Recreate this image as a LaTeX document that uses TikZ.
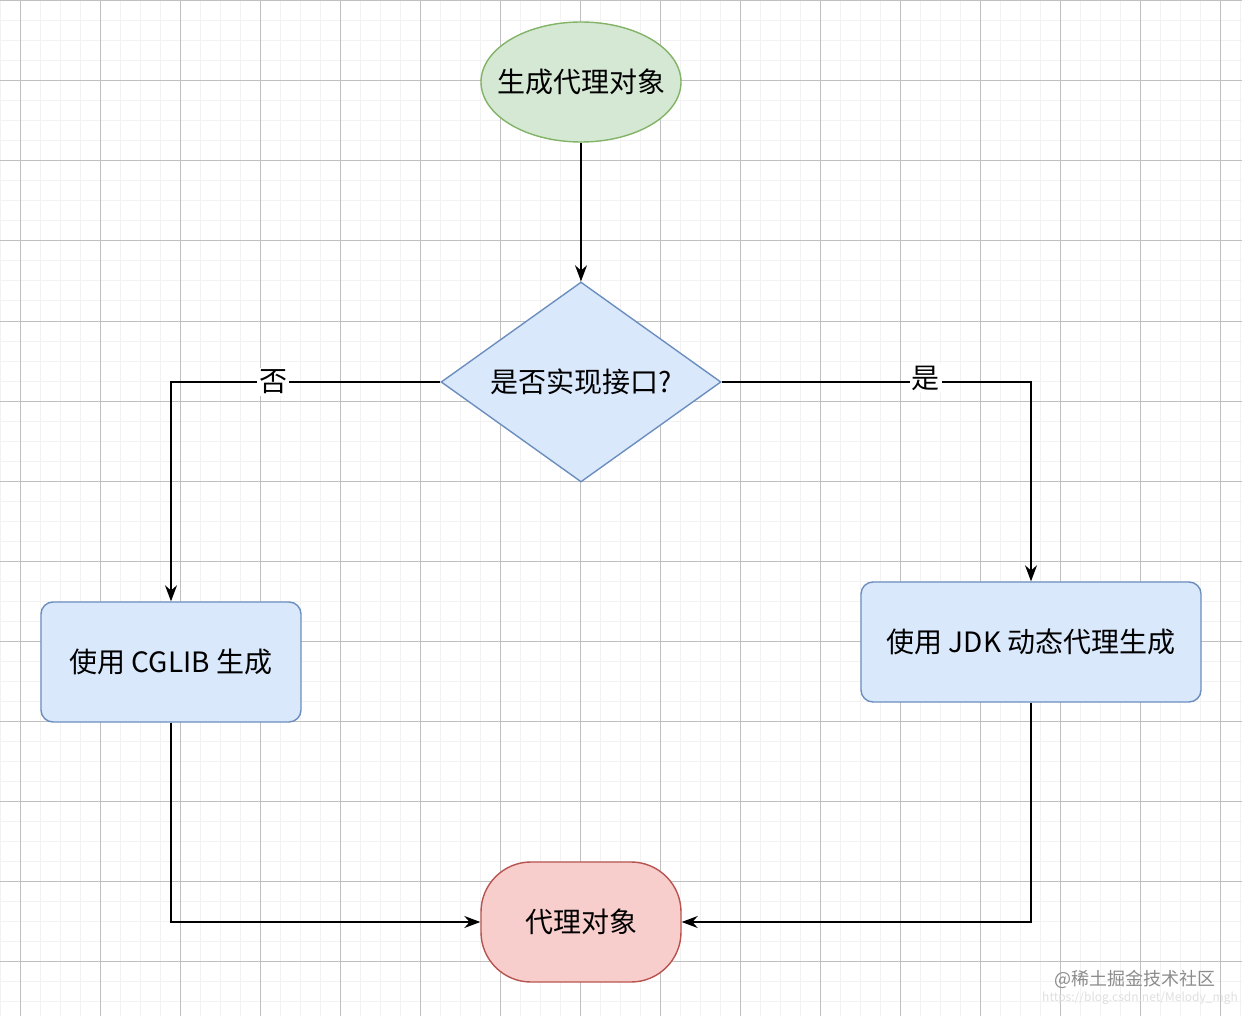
\documentclass[tikz,border=0pt]{standalone}
\usepackage{fontspec}
\setmainfont{Noto Sans CJK SC}
\usetikzlibrary{shapes.geometric,arrows.meta}
\definecolor{gfill}{HTML}{D5E8D4}\definecolor{gdraw}{HTML}{82B366}
\definecolor{bfill}{HTML}{DAE8FC}\definecolor{bdraw}{HTML}{6C8EBF}
\definecolor{rfill}{HTML}{F8CECC}\definecolor{rdraw}{HTML}{B85450}
\begin{document}
\begin{tikzpicture}[x=0.5pt,y=-0.5pt,
 lbl/.style={font=\fontsize{14}{16}\selectfont},
 edge/.style={draw=black,line width=0.7pt,-{Stealth[length=8pt,width=6pt]}},
 box/.style={draw=bdraw,fill=bfill,line width=0.7pt,rounded corners=6pt,lbl}]
\useasboundingbox (0,0) rectangle (1242,1016);
\fill[white] (0,0) rectangle (1242,1016);
\foreach \x in {0,20,...,1240} \draw[black!5,line width=0.5pt] (\x,0) -- (\x,1016);
\foreach \y in {1,21,...,1016} \draw[black!5,line width=0.5pt] (0,\y) -- (1242,\y);
\foreach \x in {20,100,...,1240} \draw[black!25,line width=0.5pt] (\x,0) -- (\x,1016);
\foreach \y in {1,81,...,1016} \draw[black!25,line width=0.5pt] (0,\y) -- (1242,\y);
\node[ellipse,draw=gdraw,fill=gfill,line width=0.7pt,minimum width=100pt,minimum height=60pt,inner sep=0] (start) at (581,82) {};
\node[lbl] (startt) at (start) {生成代理对象};
\node[diamond,draw=bdraw,fill=bfill,line width=0.7pt,minimum width=140pt,minimum height=100pt,inner sep=0,aspect=1.4] (dec) at (581,382) {};
\node[lbl] (dect) at (dec) {是否实现接口?};
\node[box,minimum width=130pt,minimum height=60pt] (cg) at (171,662) {使用 CGLIB 生成};
\node[box,minimum width=170pt,minimum height=60pt] (jdk) at (1031,642) {使用 JDK 动态代理生成};
\node[draw=rdraw,fill=rfill,line width=0.7pt,rounded corners=25pt,minimum width=100pt,minimum height=60pt,lbl] (end) at (581,922) {代理对象};
\draw[edge] (start) -- (dec);
\draw[edge] (dec.west) -| node[pos=0.31,fill=white,inner sep=1pt,lbl]{否} (cg.north);
\draw[edge] (dec.east) -| node[pos=0.33,fill=white,inner sep=1pt,lbl,yshift=2pt]{是} (jdk.north);
\draw[edge] (cg.south) |- (end.west);
\draw[edge] (jdk.south) |- (end.east);
\node[text=black!45,font=\fontsize{9}{10}\selectfont] (wm) at (1135,979) {@稀土掘金技术社区};
\node[text=black!12,font=\fontsize{6}{7}\selectfont] (wm2) at (1140,998) {https://blog.csdn.net/Melody\_mgh};
\end{tikzpicture}
\end{document}
